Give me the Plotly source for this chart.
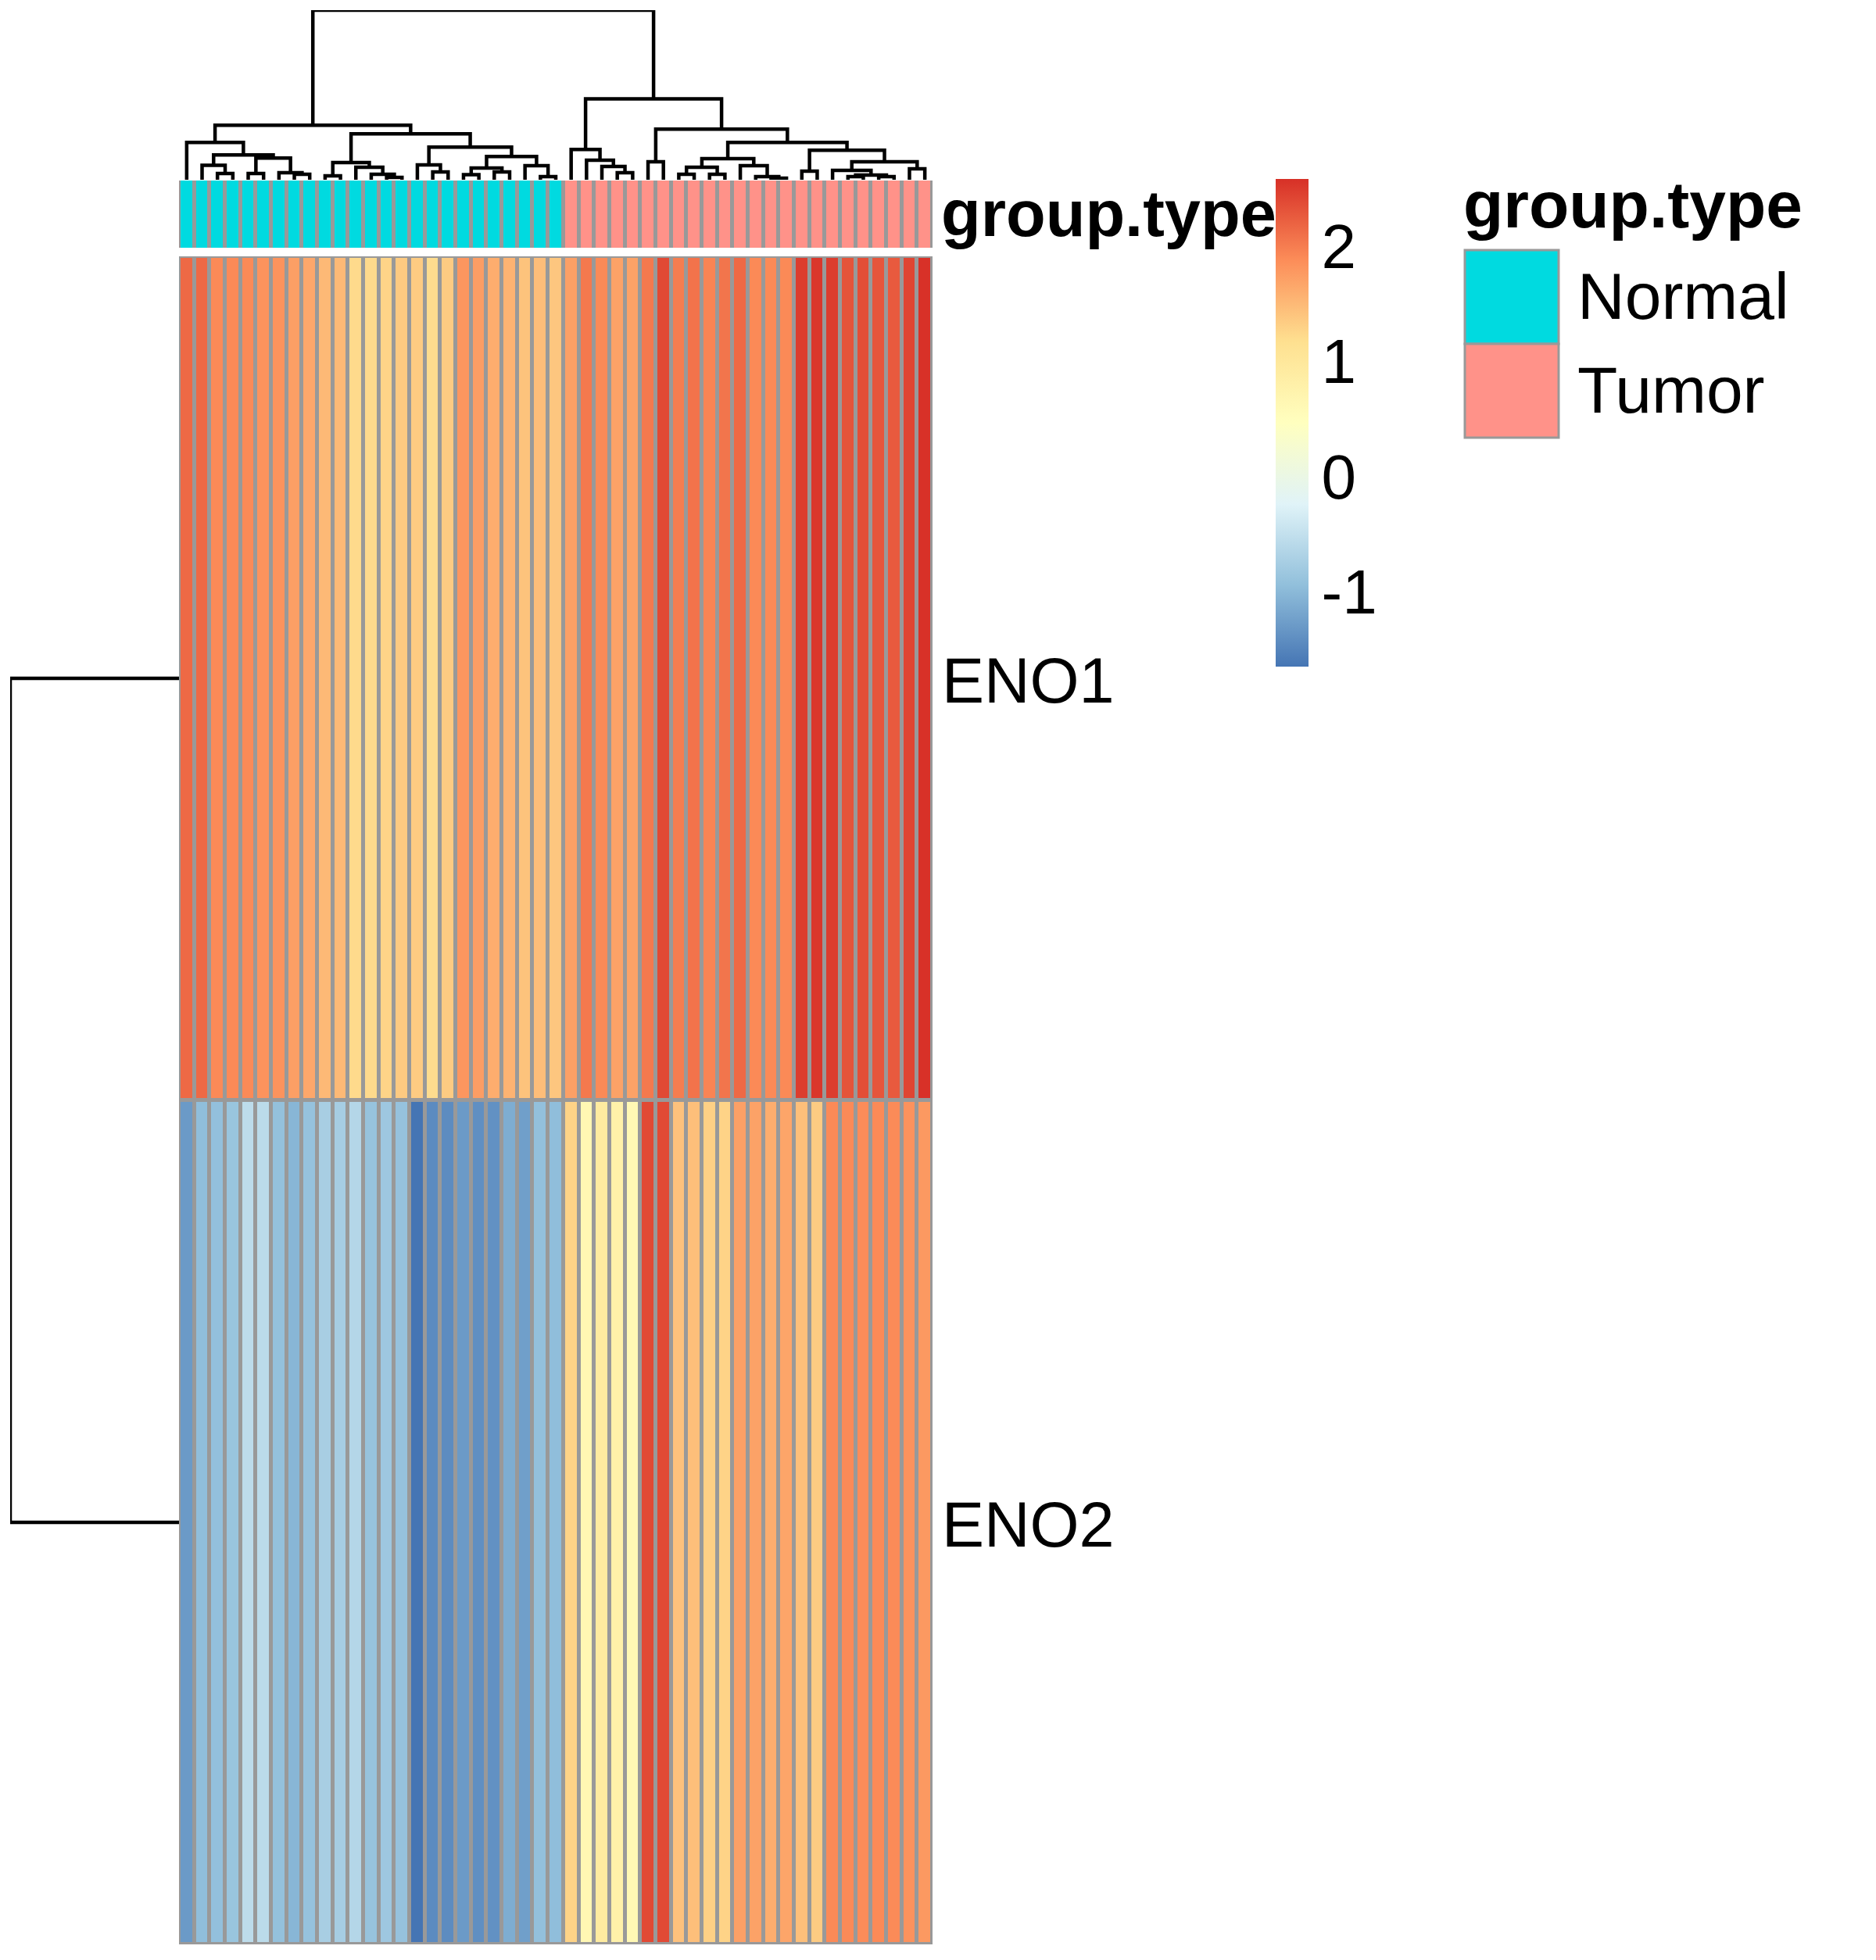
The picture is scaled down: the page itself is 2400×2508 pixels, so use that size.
import plotly.graph_objects as go

PAGE_W, PAGE_H = 2400, 2508
OFF = 8                      # default body margin of the html page
W, H = PAGE_W - 2 * OFF, PAGE_H - 2 * OFF
FONT = "Liberation Sans, Arial, sans-serif"

# ---------------- data ----------------
genes = ["ENO1", "ENO2"]

group = ["Normal", "Normal", "Normal", "Normal", "Normal", "Normal", "Normal", "Normal", "Normal", "Normal",
         "Normal", "Normal", "Normal", "Normal", "Normal", "Normal", "Normal", "Normal", "Normal", "Normal",
         "Normal", "Normal", "Normal", "Normal", "Normal",
         "Tumor", "Tumor", "Tumor", "Tumor", "Tumor", "Tumor", "Tumor", "Tumor", "Tumor", "Tumor",
         "Tumor", "Tumor", "Tumor", "Tumor", "Tumor", "Tumor", "Tumor", "Tumor", "Tumor", "Tumor",
         "Tumor", "Tumor", "Tumor", "Tumor"]

eno1 = [2.15, 2.15, 1.90, 1.90, 1.90, 1.82, 1.82, 1.72, 1.65, 1.50, 1.50, 1.22, 1.22, 1.27, 1.36,
        1.35, 1.20, 1.35, 1.80, 1.74, 1.60, 1.55, 1.42, 1.47, 1.39,
        1.71, 2.03, 1.90, 1.70, 1.70, 2.03, 2.39, 2.00, 2.07, 1.94, 2.06, 2.15, 1.90, 1.90, 1.90,
        2.48, 2.53, 2.48, 2.31, 2.35, 2.30, 2.26, 2.42, 2.57]

eno2 = [-1.30, -0.95, -0.93, -0.87, -0.55, -0.57, -0.92, -1.03, -0.90, -0.74, -0.76, -0.63, -0.89,
        -0.83, -0.90, -1.66, -1.44, -1.43, -1.30, -1.40, -1.38, -1.12, -1.25, -0.93, -0.95,
        1.28, 0.64, 0.93, 0.79, 0.63, 2.39, 2.38, 1.43, 1.45, 1.31, 1.28, 1.71, 1.70, 1.60, 1.67,
        1.45, 1.35, 1.90, 1.90, 1.88, 1.90, 1.89, 1.83, 1.77]

# column dendrogram, hclust-style merges: negative = leaf (1-based, display order), positive = earlier merge
col_merge = [
    (-3, -4, 8), (-5, -6, 8), (-8, -9, 7), (-7, 3, 9), (-2, 1, 18.5), (2, 4, 28), (5, 6, 32),
    (-1, 7, 48), (-10, -11, 5), (-14, -15, 3), (-13, 10, 7), (-12, 11, 16), (9, 12, 22),
    (-17, -18, 10), (-16, 14, 19), (-19, -20, 6.5), (-21, -22, 10), (16, 17, 15), (-24, -25, 4),
    (-23, 19, 18), (18, 20, 30), (15, 21, 42), (13, 22, 59), (8, 23, 70),
    (-29, -30, 9), (-28, 25, 17), (-27, 26, 25), (-26, 27, 39), (-31, -32, 23), (-33, -34, 7),
    (-35, -36, 7), (30, 31, 16), (-39, -40, 2), (-38, 33, 4), (-37, 34, 18), (32, 35, 27),
    (-41, -42, 11), (-44, -45, 4), (-46, -47, 4), (38, 39, 6), (-43, 40, 12), (-48, -49, 14),
    (41, 42, 23), (37, 43, 38), (36, 44, 48), (29, 45, 65), (28, 46, 104), (24, 47, 218),
]
row_merge = [(-1, -2, 10.0)]

color_ticks = [-1, 0, 1, 2]
color_tick_text = ["-1", "0", "1", "2"]
z_min, z_max = -1.65, 2.58
rdylbu_rev = ["#4575B4", "#91BFDB", "#E0F3F8", "#FFFFBF", "#FEE090", "#FC8D59", "#D73027"]
group_levels = ["Normal", "Tumor"]
group_colors = ["#00DAE0", "#FF9289"]
BORDER = "#999999"


# ---------------- helpers (page pixel -> paper fraction) ----------------
def fx(p):
    return (p - OFF) / W


def fy(p):
    return 1 - (p - OFF) / H


def dendro_segments(merges):
    pos, hgt = {}, {}

    def get(node):
        if node < 0:
            return float(-node - 1), 0.0
        return pos[node], hgt[node]

    a_s, h_s = [], []
    for k, (a, b, h) in enumerate(merges, start=1):
        xa, ha = get(a)
        xb, hb = get(b)
        a_s += [xa, xa, xb, xb, None]
        h_s += [ha, h, h, hb, None]
        pos[k] = (xa + xb) / 2
        hgt[k] = h
    return a_s, h_s


n = len(eno1)
cols = list(range(n))

fig = go.Figure()

# main heatmap
fig.add_trace(go.Heatmap(
    z=[eno1, eno2], x=cols, y=[0, 1],
    colorscale=[[i / 6, c] for i, c in enumerate(rdylbu_rev)],
    zmin=z_min, zmax=z_max, xgap=5, ygap=5,
    xaxis="x", yaxis="y", hoverinfo="skip",
    colorbar=dict(
        thicknessmode="pixels", thickness=42, lenmode="pixels", len=624,
        x=fx(1632), xanchor="left", y=fy(229), yanchor="top",
        xpad=0, ypad=0, outlinewidth=0, borderwidth=0,
        tickvals=color_ticks, ticktext=color_tick_text,
        ticks="", tickfont=dict(size=80, color="black", family=FONT),
    ),
))

# annotation bar
gz = [[group_levels.index(g) for g in group]]
fig.add_trace(go.Heatmap(
    z=gz, x=cols, y=[0],
    colorscale=[[0, group_colors[0]], [0.5, group_colors[0]], [0.5, group_colors[1]], [1, group_colors[1]]],
    zmin=0, zmax=1, xgap=5, ygap=0, showscale=False,
    xaxis="x2", yaxis="y2", hoverinfo="skip",
))

# column dendrogram
dx, dh = dendro_segments(col_merge)
fig.add_trace(go.Scatter(x=dx, y=dh, mode="lines", line=dict(color="black", width=4.5),
                         xaxis="x3", yaxis="y3", showlegend=False, hoverinfo="skip"))

# row dendrogram
ry, rh = dendro_segments(row_merge)
fig.add_trace(go.Scatter(x=rh, y=ry, mode="lines", line=dict(color="black", width=4.5),
                         xaxis="x4", yaxis="y4", showlegend=False, hoverinfo="skip"))

hx_dom = [fx(229), fx(1193)]
hidden = dict(visible=False, showgrid=False, zeroline=False)

fig.update_layout(
    width=W, height=H, autosize=False,
    margin=dict(l=0, r=0, t=0, b=0, pad=0),
    paper_bgcolor="white", plot_bgcolor="rgba(0,0,0,0)",
    showlegend=False,
    font=dict(family=FONT, color="black"),
    xaxis=dict(domain=hx_dom, range=[-0.5, n - 0.5], anchor="y", **hidden),
    yaxis=dict(domain=[fy(2488), fy(328)], range=[1.5, -0.5], anchor="x", **hidden),
    xaxis2=dict(domain=hx_dom, range=[-0.5, n - 0.5], anchor="y2", **hidden),
    yaxis2=dict(domain=[fy(317), fy(231)], range=[0.5, -0.5], anchor="x2", **hidden),
    xaxis3=dict(domain=hx_dom, range=[-0.5, n - 0.5], anchor="y3", **hidden),
    yaxis3=dict(domain=[fy(230), fy(13)], range=[0, 218], anchor="x3", **hidden),
    xaxis4=dict(domain=[fx(13), fx(229)], range=[row_merge[0][2], 0], anchor="y4", **hidden),
    yaxis4=dict(domain=[fy(2488), fy(328)], range=[1.5, -0.5], anchor="x4", **hidden),
)

# grey cell borders behind heatmaps
fig.add_shape(type="rect", xref="x", yref="y", x0=-0.5, x1=n - 0.5, y0=-0.5, y1=1.5,
              fillcolor=BORDER, line=dict(color=BORDER, width=4), layer="below")
fig.add_shape(type="rect", xref="x2", yref="y2", x0=-0.5, x1=n - 0.5, y0=-0.5, y1=0.5,
              fillcolor=BORDER, line=dict(color=BORDER, width=4), layer="below")

# row labels (right of heatmap)
for i, g in enumerate(genes):
    fig.add_annotation(text=g, xref="paper", yref="y", x=fx(1203), y=i, yshift=-3,
                       xanchor="left", yanchor="middle", showarrow=False,
                       font=dict(size=81, family=FONT, color="black"))

# annotation-row name
fig.add_annotation(text="<b>group.type</b>", xref="paper", yref="y2", x=fx(1202), y=0, yshift=0,
                   xanchor="left", yanchor="middle", showarrow=False,
                   font=dict(size=83, family=FONT, color="black"))

# legend for group.type
fig.add_annotation(text="<b>group.type</b>", xref="paper", yref="paper", x=fx(1870), y=fy(262),
                   xanchor="left", yanchor="middle", showarrow=False,
                   font=dict(size=84, family=FONT, color="black"))
key_tops = [320, 440]
key_h = 120
for lvl, col, top in zip(group_levels, group_colors, key_tops):
    fig.add_shape(type="rect", xref="paper", yref="paper", x0=fx(1874), x1=fx(1994),
                  y0=fy(top + key_h), y1=fy(top), fillcolor=col,
                  line=dict(color=BORDER, width=3))
    fig.add_annotation(text=lvl, xref="paper", yref="paper", x=fx(2016), y=fy(top + key_h / 2 - 1),
                       xanchor="left", yanchor="middle", showarrow=False,
                       font=dict(size=84, family=FONT, color="black"))

fig.write_html("out.html")
